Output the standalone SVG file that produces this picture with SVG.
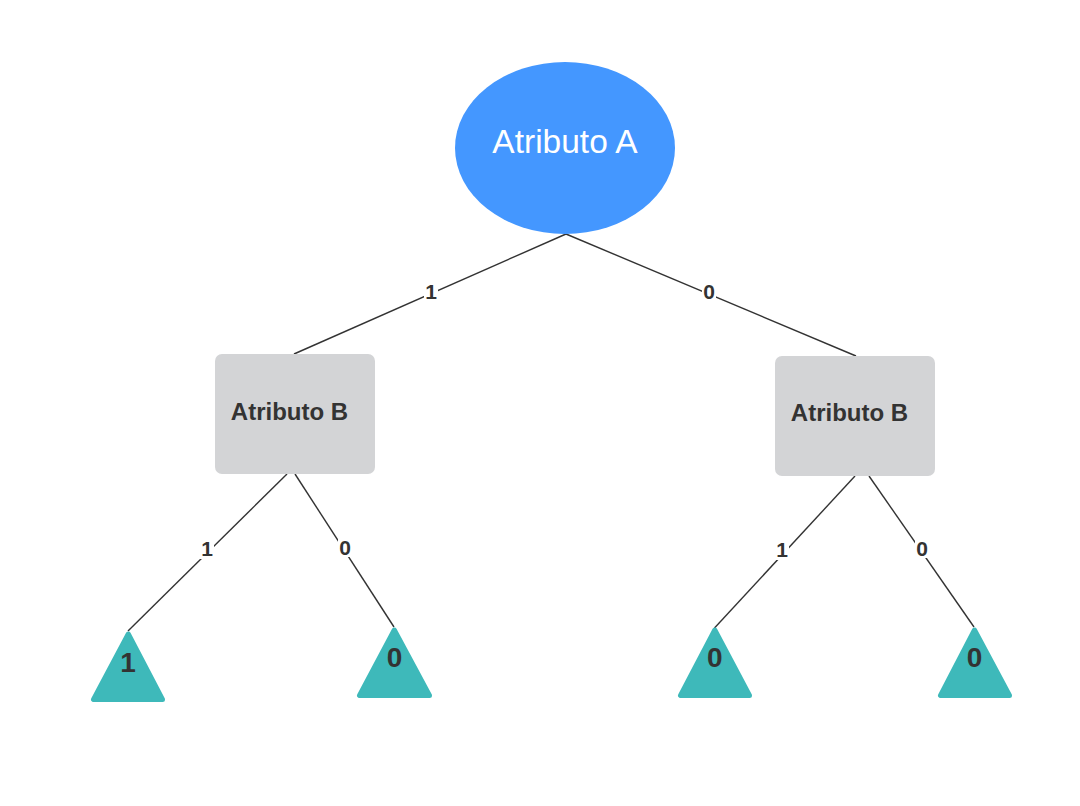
<svg xmlns="http://www.w3.org/2000/svg" width="1080" height="806" viewBox="0 0 1080 806">
  <style>
    .edge { stroke: #333333; stroke-width: 1.4; fill: none; }
    .lblbg { fill: #ffffff; }
    .lbl { font-family: "Liberation Sans", Arial, sans-serif; font-weight: bold; font-size: 21px; fill: #333333; text-anchor: middle; }
    .box { fill: #D3D4D6; }
    .boxtxt { font-family: "Liberation Sans", Arial, sans-serif; font-weight: bold; font-size: 24px; fill: #333333; text-anchor: middle; }
    .leaf { fill: #3EB9BA; stroke: #3EB9BA; stroke-width: 5; stroke-linejoin: round; }
    .leaftxt { font-family: "Liberation Sans", Arial, sans-serif; font-weight: bold; font-size: 28px; fill: #333333; text-anchor: middle; }
  </style>
  <rect width="1080" height="806" fill="#ffffff"/>
  <g id="connectors">
    <line class="edge" x1="566" y1="234" x2="294" y2="354"/>
    <line class="edge" x1="566" y1="234" x2="856" y2="356"/>
    <line class="edge" x1="287" y1="474" x2="128" y2="631"/>
    <line class="edge" x1="295" y1="474" x2="394" y2="627"/>
    <line class="edge" x1="855" y1="476" x2="714.5" y2="628"/>
    <line class="edge" x1="869" y1="476" x2="974" y2="627"/>
    <rect class="lblbg" x="424" y="282" width="14" height="19"/>
    <text class="lbl" x="431" y="299">1</text>
    <rect class="lblbg" x="702" y="282" width="14" height="19"/>
    <text class="lbl" x="709" y="299">0</text>
    <rect class="lblbg" x="200" y="540" width="14" height="19"/>
    <text class="lbl" x="207" y="556">1</text>
    <rect class="lblbg" x="338" y="538" width="14" height="19"/>
    <text class="lbl" x="345" y="554.5">0</text>
    <rect class="lblbg" x="775" y="541" width="14" height="19"/>
    <text class="lbl" x="782" y="557">1</text>
    <rect class="lblbg" x="915" y="539" width="14" height="19"/>
    <text class="lbl" x="922" y="555.5">0</text>
  </g>
  <g id="node-atributo-a">
    <ellipse cx="565" cy="148" rx="110" ry="86" fill="#4497FF"/>
    <text x="565" y="153" font-family="'Liberation Sans', Arial, sans-serif" font-size="33.5" fill="#ffffff" text-anchor="middle">Atributo A</text>
  </g>
  <g id="node-atributo-b-left">
    <rect class="box" x="215" y="354" width="160" height="120" rx="7"/>
    <text class="boxtxt" x="289.5" y="420">Atributo B</text>
  </g>
  <g id="node-atributo-b-right">
    <rect class="box" x="775" y="356" width="160" height="120" rx="7"/>
    <text class="boxtxt" x="849.5" y="421">Atributo B</text>
  </g>
  <g id="leaf-1">
    <polygon class="leaf" points="128.3,634 93.5,699.5 162.5,699.5"/>
    <text class="leaftxt" x="128" y="672">1</text>
  </g>
  <g id="leaf-2">
    <polygon class="leaf" points="394.3,630 359.5,695.5 429.5,695.5"/>
    <text class="leaftxt" x="394.5" y="667">0</text>
  </g>
  <g id="leaf-3">
    <polygon class="leaf" points="714.8,630 680.5,695.5 749.5,695.5"/>
    <text class="leaftxt" x="714.8" y="667">0</text>
  </g>
  <g id="leaf-4">
    <polygon class="leaf" points="974.5,630 940.5,695.5 1009.5,695.5"/>
    <text class="leaftxt" x="974.5" y="667">0</text>
  </g>
</svg>
